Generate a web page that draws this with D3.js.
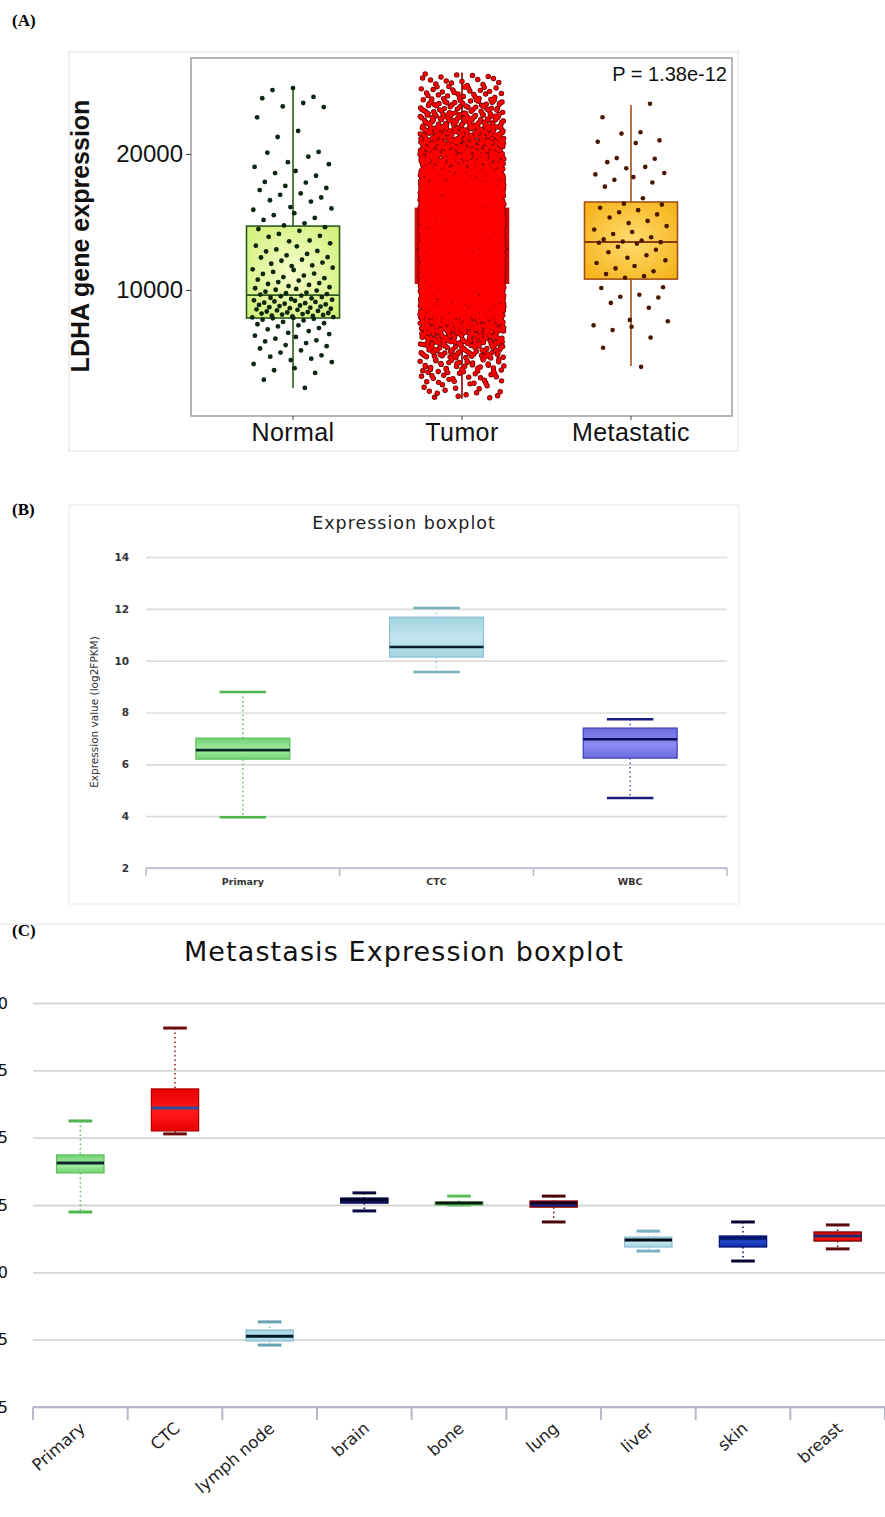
<!DOCTYPE html>
<html>
<head>
<meta charset="utf-8">
<script src="https://cdn.jsdelivr.net/npm/d3@7"></script>
<style>
  body { margin: 0; background: #fff; }
  svg { display: block; }
</style>
</head>
<body>
<div id="fig"></div>
<script>

// ---- panel A data (LDHA expression, jitter + box) ----
var groupsA = ['Normal', 'Tumor', 'Metastatic'];
var ticksA = [10000, 20000];
var pValueText = 'P = 1.38e-12';

var boxA_low = [2790, 2000, 4410];
var boxA_q1 = [7940, 10500, 10800];
var boxA_median = [9630, 13000, 13530];
var boxA_q3 = [14700, 16000, 16470];
var boxA_high = [24850, 26000, 23600];

var normalValues = [
  24850, 24700, 24200, 24100, 23750, 23500, 23450, 22700, 21700, 21250,
  20150, 20100, 19800, 19400, 19250, 19050, 18750, 18600, 18400, 17950,
  17900, 17650, 17500, 17350, 17100, 17000, 16800, 16600, 16500, 16100,
  16000, 15900, 15650, 15500, 15300, 15150, 14900, 14750,
  14620, 14480, 14350, 14120, 13980, 13910, 13640, 13580, 13430, 13260,
  13210, 12980, 12870, 12840, 12660, 12550, 12410, 12390, 12230, 12150,
  12020, 11930, 11810, 11760, 11640, 11520, 11470, 11330, 11210, 11180,
  11060, 10950, 10870, 10760, 10690, 10580, 10510, 10440, 10370, 10290,
  10210, 10130, 10080, 10020, 9960, 9880, 9810, 9760, 9700, 9660,
  9590, 9540, 9480, 9430, 9390, 9340, 9290, 9240, 9210, 9160,
  9120, 9070, 9030, 8990, 8940, 8900, 8860, 8820, 8780, 8740,
  8700, 8660, 8620, 8580, 8540, 8500, 8460, 8420, 8380, 8350,
  8310, 8270, 8230, 8190, 8160, 8120, 8090, 8050, 8010, 7980,
  7950, 7920, 7880, 7820, 7760, 7650, 7560, 7480, 7400, 7320,
  7200, 7110, 6980, 6850, 6760, 6640, 6550, 6420, 6300, 6220,
  6100, 5950, 5870, 5700, 5560, 5400, 5200, 5100, 4950, 4850,
  4700, 4560, 4250, 4100, 3900, 3400, 2800
];

var metastaticValues = [
  23700, 22700, 21600, 21500, 21000, 20900, 20800, 19700, 19650, 19400,
  19050, 18950, 18600, 18500, 18300, 18100, 17900, 17600, 16750,
  16350, 16280, 16050, 15870, 15720, 15560, 15330, 15080, 14920, 14700,
  14450, 14260, 14120, 13880, 13720, 13640, 13560, 13520, 13470, 13410,
  13180, 12960, 12780, 12550, 12370, 12180, 11990, 11760, 11590, 11380,
  11170, 11020, 10900,
  10200, 10150, 9650, 9500, 9450, 9050, 8700, 7800, 7700, 7400,
  7300, 7050, 6500, 5750, 4350
];

// tumor cloud is too dense to read point by point: counts per 1000-unit bin
var tumorBinLow = [25000, 24000, 23000, 22000, 21000, 20000, 19000, 18000, 17000, 16000,
  15000, 14000, 13000, 12000, 11000, 10000, 9000, 8000, 7000, 6000,
  5000, 4000, 3000, 2000];
var tumorBinCount = [16, 30, 50, 75, 100, 125, 155, 190, 240, 260,
  260, 260, 260, 260, 260, 260, 250, 220, 140, 90,
  60, 40, 25, 14];

// ---- panel B data ----
var groupsB = ['Primary', 'CTC', 'WBC'];
var ticksB = [2, 4, 6, 8, 10, 12, 14];
var b_low = [3.96, 9.56, 4.70];
var b_q1 = [6.20, 10.14, 6.24];
var b_med = [6.55, 10.53, 6.97];
var b_q3 = [7.01, 11.68, 7.40];
var b_high = [8.79, 12.03, 7.74];

// ---- panel C data ----
var groupsC = ['Primary', 'CTC', 'lymph node', 'brain', 'bone', 'lung', 'liver', 'skin', 'breast'];
var ticksC = [5, 7.5, 10, 12.5, 15, 17.5, 20];
var c_low = [12.24, 15.14, 7.30, 12.28, 12.50, 11.87, 10.79, 10.42, 10.87];
var c_q1 = [13.69, 15.25, 7.45, 12.57, 12.50, 12.42, 10.94, 10.94, 11.16];
var c_med = [14.06, 16.10, 7.63, 12.69, 12.57, 12.57, 11.20, 11.27, 11.35];
var c_q3 = [14.36, 16.81, 7.86, 12.76, 12.61, 12.65, 11.31, 11.35, 11.50];
var c_high = [15.62, 19.07, 8.16, 12.95, 12.83, 12.83, 11.53, 11.87, 11.76];


// low discrepancy sequence, used only for horizontal jitter / spreading inside a bin
function halton(i, b) {
  var f = 1, r = 0;
  while (i > 0) {
    f = f / b;
    r = r + f * (i % b);
    i = Math.floor(i / b);
  }
  return r;
}

var svg = d3.select('#fig')
  .append('svg')
  .attr('width', 885)
  .attr('height', 1517)
  ;

var defs = svg.append('defs');

// gradients
function vGrad(id, edge, mid) {
  var g = defs.append('linearGradient').attr('id', id)
    .attr('x1', 0).attr('y1', 0).attr('x2', 0).attr('y2', 1);
  g.append('stop').attr('offset', '0%').attr('stop-color', edge);
  g.append('stop').attr('offset', '55%').attr('stop-color', mid);
  g.append('stop').attr('offset', '100%').attr('stop-color', edge);
}
function rGrad(id, inner, outer) {
  var g = defs.append('radialGradient').attr('id', id)
    .attr('cx', '50%').attr('cy', '50%').attr('r', '65%');
  g.append('stop').attr('offset', '0%').attr('stop-color', inner);
  g.append('stop').attr('offset', '100%').attr('stop-color', outer);
}
rGrad('gNormal', '#f6ffcc', '#d3f07a');
rGrad('gMeta', '#ffdc70', '#f6b31a');
vGrad('gGreen', '#72d272', '#a6eca6');
vGrad('gLightBlue', '#a2d2e2', '#c2e6f0');
vGrad('gPurple', '#6c6ce0', '#8c8cf0');
vGrad('gRed', '#e80000', '#ff1a1a');
vGrad('gNavy', '#08146e', '#1a2c9a');
vGrad('gBlue', '#0c2aa0', '#2446c8');

// panel letters
svg.selectAll('text.letter')
  .data([['(A)', 26], ['(B)', 515], ['(C)', 936]])
  .enter()
  .append('text')
  .attr('class', 'letter')
  .attr('x', 12)
  .attr('y', function(d) { return d[1]; })
  .style('font-family', '"Liberation Serif", "Times New Roman", serif')
  .style('font-weight', 'bold')
  .style('font-size', '17px')
  .text(function(d) { return d[0]; })
  ;

// ================= PANEL A =================
var gA = svg.append('g').attr('class', 'panelA');

gA.append('rect')
  .attr('x', 69).attr('y', 52).attr('width', 669).attr('height', 399)
  .attr('fill', 'none').attr('stroke', '#e2e2e2')
  ;

var xA = d3.scaleBand().domain(groupsA).range([208.5, 715.5]);
var yA = d3.scaleLinear().domain([0, 30000]).range([426, 18]);
var boxWA = 93;

var fontA = '"Liberation Sans", Arial, Helvetica, sans-serif';

// whiskers (under boxes)
gA.selectAll('line.whisk')
  .data(groupsA)
  .enter()
  .append('line')
  .attr('class', 'whisk')
  .attr('x1', function(d) { return xA(d) + xA.bandwidth() / 2; })
  .attr('x2', function(d) { return xA(d) + xA.bandwidth() / 2; })
  .attr('y1', function(d, i) { return yA(boxA_high[i]); })
  .attr('y2', function(d, i) { return yA(boxA_low[i]); })
  .attr('stroke', function(d, i) { return ['#2b5a1c', '#8b0000', '#a0521a'][i]; })
  .attr('stroke-width', 1.6)
  ;

gA.selectAll('rect.box')
  .data(groupsA)
  .enter()
  .append('rect')
  .attr('class', 'box')
  .attr('x', function(d) { return xA(d) + xA.bandwidth() / 2 - boxWA / 2; })
  .attr('width', boxWA)
  .attr('y', function(d, i) { return yA(boxA_q3[i]); })
  .attr('height', function(d, i) { return yA(boxA_q1[i]) - yA(boxA_q3[i]); })
  .attr('fill', function(d, i) { return ['url(#gNormal)', '#e00000', 'url(#gMeta)'][i]; })
  .attr('stroke', function(d, i) { return ['#2b5a1c', '#c01010', '#a0521a'][i]; })
  .attr('stroke-width', 1.6)
  ;

gA.selectAll('line.med')
  .data(groupsA)
  .enter()
  .append('line')
  .attr('class', 'med')
  .attr('x1', function(d) { return xA(d) + xA.bandwidth() / 2 - boxWA / 2; })
  .attr('x2', function(d) { return xA(d) + xA.bandwidth() / 2 + boxWA / 2; })
  .attr('y1', function(d, i) { return yA(boxA_median[i]); })
  .attr('y2', function(d, i) { return yA(boxA_median[i]); })
  .attr('stroke', function(d, i) { return ['#2b5a1c', '#a00000', '#8b3a10'][i]; })
  .attr('stroke-width', 1.8)
  ;

// normal points
var cxN = xA('Normal') + xA.bandwidth() / 2;
gA.selectAll('circle.normal')
  .data(normalValues)
  .enter()
  .append('circle')
  .attr('class', 'normal')
  .attr('cx', function(d, i) { return cxN + (halton(i + 1, 2) * 2 - 1) * 41; })
  .attr('cy', function(d) { return yA(d); })
  .attr('r', 2.4)
  .attr('fill', '#0c2612')
  ;

// tumor cloud built from bin counts
var tumorPts = [];
var k = 1;
tumorBinLow.forEach(function(lo, b) {
  for (var j = 0; j < tumorBinCount[b]; j++) {
    tumorPts.push({v: lo + halton(k, 3) * 1000, u: halton(k, 2)});
    k++;
  }
});
var cxT = xA('Tumor') + xA.bandwidth() / 2;
gA.selectAll('circle.tumorEdge')
  .data(tumorPts)
  .enter()
  .append('circle')
  .attr('class', 'tumorEdge')
  .attr('cx', function(d) { return cxT + (d.u * 2 - 1) * 42; })
  .attr('cy', function(d) { return yA(d.v); })
  .attr('r', 2.7)
  .attr('fill', '#6e0000')
  ;
gA.selectAll('circle.tumor')
  .data(tumorPts)
  .enter()
  .append('circle')
  .attr('class', 'tumor')
  .attr('cx', function(d) { return cxT + (d.u * 2 - 1) * 42; })
  .attr('cy', function(d) { return yA(d.v); })
  .attr('r', 1.9)
  .attr('fill', '#ff0000')
  ;

// metastatic points
var cxM = xA('Metastatic') + xA.bandwidth() / 2;
gA.selectAll('circle.meta')
  .data(metastaticValues)
  .enter()
  .append('circle')
  .attr('class', 'meta')
  .attr('cx', function(d, i) { return cxM + (halton(i + 3, 2) * 2 - 1) * 38; })
  .attr('cy', function(d) { return yA(d); })
  .attr('r', 2.3)
  .attr('fill', '#4a1600')
  ;

// frame + axes
gA.append('rect')
  .attr('x', 191).attr('y', 58).attr('width', 541).attr('height', 358)
  .attr('fill', 'none').attr('stroke', '#9c9c9c').attr('stroke-width', 1.5)
  ;

var axA = gA.append('g')
  .attr('transform', 'translate(191,0)')
  .call(d3.axisLeft(yA).tickValues(ticksA).tickSize(5).tickPadding(3).tickFormat(d3.format('d')))
  ;
axA.select('.domain').remove();
axA.selectAll('line').attr('stroke', '#444');
axA.selectAll('text')
  .style('font-family', fontA)
  .style('font-size', '24px')
  .attr('fill', '#111')
  ;

var axAx = gA.append('g')
  .attr('transform', 'translate(0,416)')
  .call(d3.axisBottom(xA).tickSize(4).tickPadding(3))
  ;
axAx.select('.domain').remove();
axAx.selectAll('line').attr('stroke', '#444');
axAx.selectAll('text')
  .style('font-family', fontA)
  .style('font-size', '25px')
  .style('letter-spacing', '0.4px')
  .attr('fill', '#111')
  ;

gA.append('text')
  .attr('transform', 'translate(89,236) rotate(-90)')
  .attr('text-anchor', 'middle')
  .style('font-family', fontA)
  .style('font-weight', 'bold')
  .style('font-size', '25px')
  .attr('fill', '#111')
  .text('LDHA gene expression')
  ;

gA.append('text')
  .attr('x', 727).attr('y', 81)
  .attr('text-anchor', 'end')
  .style('font-family', fontA)
  .style('font-size', '20px')
  .attr('fill', '#111')
  .text(pValueText)
  ;

// ============ shared box drawer for panels B and C ============
function drawBoxes(g, cats, lo, q1, med, q3, hi, x, y, st, boxFrac, capFrac, capW, medW) {
  cats.forEach(function(c, i) {
    var cx = x(c) + x.bandwidth() / 2;
    var bw = x.bandwidth() * boxFrac;
    var cw = x.bandwidth() * capFrac;
    var s = st[c];

    // dotted whiskers
    g.append('line')
      .attr('x1', cx).attr('x2', cx)
      .attr('y1', y(hi[i])).attr('y2', y(q3[i]))
      .attr('stroke', s.whisk).attr('stroke-width', 1.5)
      .attr('stroke-dasharray', '1.5,3')
      ;
    g.append('line')
      .attr('x1', cx).attr('x2', cx)
      .attr('y1', y(q1[i])).attr('y2', y(lo[i]))
      .attr('stroke', s.whisk).attr('stroke-width', 1.5)
      .attr('stroke-dasharray', '1.5,3')
      ;
    // caps
    [hi[i], lo[i]].forEach(function(v) {
      g.append('line')
        .attr('x1', cx - cw / 2).attr('x2', cx + cw / 2)
        .attr('y1', y(v)).attr('y2', y(v))
        .attr('stroke', s.cap).attr('stroke-width', capW)
        ;
    });
    g.append('rect')
      .attr('x', cx - bw / 2).attr('width', bw)
      .attr('y', y(q3[i]))
      .attr('height', Math.max(1, y(q1[i]) - y(q3[i])))
      .attr('fill', s.fill)
      .attr('stroke', s.stroke).attr('stroke-width', 1.2)
      ;
    g.append('line')
      .attr('x1', cx - bw / 2).attr('x2', cx + bw / 2)
      .attr('y1', y(med[i])).attr('y2', y(med[i]))
      .attr('stroke', s.med).attr('stroke-width', medW)
      ;
  });
}

var fontBC = '"DejaVu Sans", "Open Sans", sans-serif';

// ================= PANEL B =================
var gB = svg.append('g').attr('class', 'panelB');

gB.append('rect')
  .attr('x', 69).attr('y', 505).attr('width', 670).attr('height', 399)
  .attr('fill', 'none').attr('stroke', '#e6e6e6')
  ;

gB.append('text')
  .attr('x', 404).attr('y', 529)
  .attr('text-anchor', 'middle')
  .style('font-family', fontBC)
  .style('font-size', '17.5px')
  .style('letter-spacing', '1px')
  .attr('fill', '#222')
  .text('Expression boxplot')
  ;

var xB = d3.scaleBand().domain(groupsB).range([146, 727]);
var yB = d3.scaleLinear().domain([2, 14]).range([868, 557]);

var gridB = gB.append('g')
  .attr('transform', 'translate(146,0)')
  .call(d3.axisLeft(yB).tickValues(ticksB).tickSize(-(727 - 146)).tickPadding(17))
  ;
gridB.select('.domain').remove();
gridB.selectAll('line').attr('stroke', '#dcdcdc').attr('stroke-width', 1.6);
gridB.selectAll('text')
  .style('font-family', fontBC)
  .style('font-size', '10.5px')
  .style('font-weight', 'bold')
  .attr('fill', '#333')
  ;

var styleB = {
  'Primary': {fill: 'url(#gGreen)', stroke: '#5cbf5c', med: '#0a2626', whisk: '#5cbf5c', cap: '#4fb54f'},
  'CTC': {fill: 'url(#gLightBlue)', stroke: '#8cc0d2', med: '#0a1f2c', whisk: '#9cc8d6', cap: '#7aaec0'},
  'WBC': {fill: 'url(#gPurple)', stroke: '#3c3cb4', med: '#0c0c5a', whisk: '#5050b8', cap: '#1c1c7c'}
};
drawBoxes(gB, groupsB, b_low, b_q1, b_med, b_q3, b_high, xB, yB, styleB, 0.485, 0.24, 2.5, 2.6);

// bottom axis with boundary ticks
gB.append('line')
  .attr('x1', 146).attr('x2', 727).attr('y1', 868).attr('y2', 868)
  .attr('stroke', '#b4b8c8').attr('stroke-width', 1.5)
  ;
gB.selectAll('line.bt')
  .data(groupsB.map(function(d) { return xB(d); }).concat([727]))
  .enter()
  .append('line')
  .attr('class', 'bt')
  .attr('x1', function(d) { return d; }).attr('x2', function(d) { return d; })
  .attr('y1', 868).attr('y2', 876)
  .attr('stroke', '#b4b8c8').attr('stroke-width', 1.5)
  ;
var axBx = gB.append('g')
  .attr('transform', 'translate(0,868)')
  .call(d3.axisBottom(xB).tickSize(0).tickPadding(10))
  ;
axBx.select('.domain').remove();
axBx.selectAll('text')
  .style('font-family', fontBC)
  .style('font-size', '9.5px')
  .style('font-weight', 'bold')
  .attr('fill', '#333')
  ;

gB.append('text')
  .attr('transform', 'translate(98,712) rotate(-90)')
  .attr('text-anchor', 'middle')
  .style('font-family', fontBC)
  .style('font-size', '10.5px')
  .attr('fill', '#333')
  .text('Expression value (log2FPKM)')
  ;

// ================= PANEL C =================
var gC = svg.append('g').attr('class', 'panelC');

gC.append('line')
  .attr('x1', 0).attr('x2', 885).attr('y1', 924).attr('y2', 924)
  .attr('stroke', '#e4e4e4')
  ;

gC.append('text')
  .attr('x', 404).attr('y', 961)
  .attr('text-anchor', 'middle')
  .style('font-family', fontBC)
  .style('font-size', '27px')
  .style('letter-spacing', '1.1px')
  .attr('fill', '#111')
  .text('Metastasis Expression boxplot')
  ;

var xC = d3.scaleBand().domain(groupsC).range([33, 885]);
var yC = d3.scaleLinear().domain([5, 20]).range([1407, 1003]);

// y labels sit mostly outside the left edge, as in the source figure
var gridC = gC.append('g')
  .attr('transform', 'translate(33,0)')
  .call(d3.axisLeft(yC).tickValues(ticksC).tickSize(-(885 - 33)).tickPadding(25).tickFormat(function(d) { return String(d); }))
  ;
gridC.select('.domain').remove();
gridC.selectAll('line').attr('stroke', '#d6d6d6').attr('stroke-width', 1.8);
gridC.selectAll('text')
  .style('font-family', fontBC)
  .style('font-size', '16px')
  .attr('fill', '#111')
  ;

var styleC = {
  'Primary': {fill: 'url(#gGreen)', stroke: '#5cbf5c', med: '#0a2626', whisk: '#5cbf5c', cap: '#4fb54f'},
  'CTC': {fill: 'url(#gRed)', stroke: '#b00000', med: '#2c4c9c', whisk: '#8b1a1a', cap: '#6e0a0a'},
  'lymph node': {fill: 'url(#gLightBlue)', stroke: '#8cc0d2', med: '#001a26', whisk: '#8cc0d2', cap: '#6aa2b4'},
  'brain': {fill: 'url(#gNavy)', stroke: '#000050', med: '#000018', whisk: '#000060', cap: '#0a0a40'},
  'bone': {fill: 'url(#gGreen)', stroke: '#5cbf5c', med: '#051a0a', whisk: '#5cbf5c', cap: '#5cbf5c'},
  'lung': {fill: 'url(#gNavy)', stroke: '#9a0000', med: '#200018', whisk: '#5a0000', cap: '#4a0606'},
  'liver': {fill: 'url(#gLightBlue)', stroke: '#8cc0d2', med: '#000a10', whisk: '#8cc0d2', cap: '#7ab2c4'},
  'skin': {fill: 'url(#gBlue)', stroke: '#001070', med: '#001a6a', whisk: '#000a50', cap: '#060630'},
  'breast': {fill: 'url(#gRed)', stroke: '#700000', med: '#1a2a6a', whisk: '#5a0a0a', cap: '#5a0a0a'}
};
drawBoxes(gC, groupsC, c_low, c_q1, c_med, c_q3, c_high, xC, yC, styleC, 0.5, 0.25, 3, 3);

gC.append('line')
  .attr('x1', 33).attr('x2', 885).attr('y1', 1407).attr('y2', 1407)
  .attr('stroke', '#b4b8c8').attr('stroke-width', 2)
  ;
gC.selectAll('line.bt')
  .data(groupsC.map(function(d) { return xC(d); }).concat([885]))
  .enter()
  .append('line')
  .attr('class', 'bt')
  .attr('x1', function(d) { return d; }).attr('x2', function(d) { return d; })
  .attr('y1', 1407).attr('y2', 1420)
  .attr('stroke', '#b4b8c8').attr('stroke-width', 2)
  ;
var axCx = gC.append('g')
  .attr('transform', 'translate(0,1407)')
  .call(d3.axisBottom(xC).tickSize(0))
  ;
axCx.select('.domain').remove();
axCx.selectAll('text')
  .attr('x', 0).attr('y', 0).attr('dy', 0)
  .attr('text-anchor', 'end')
  .attr('transform', 'translate(6,23) rotate(-41)')
  .style('font-family', fontBC)
  .style('font-size', '16.5px')
  .attr('fill', '#222')
  ;

</script>
</body>
</html>
